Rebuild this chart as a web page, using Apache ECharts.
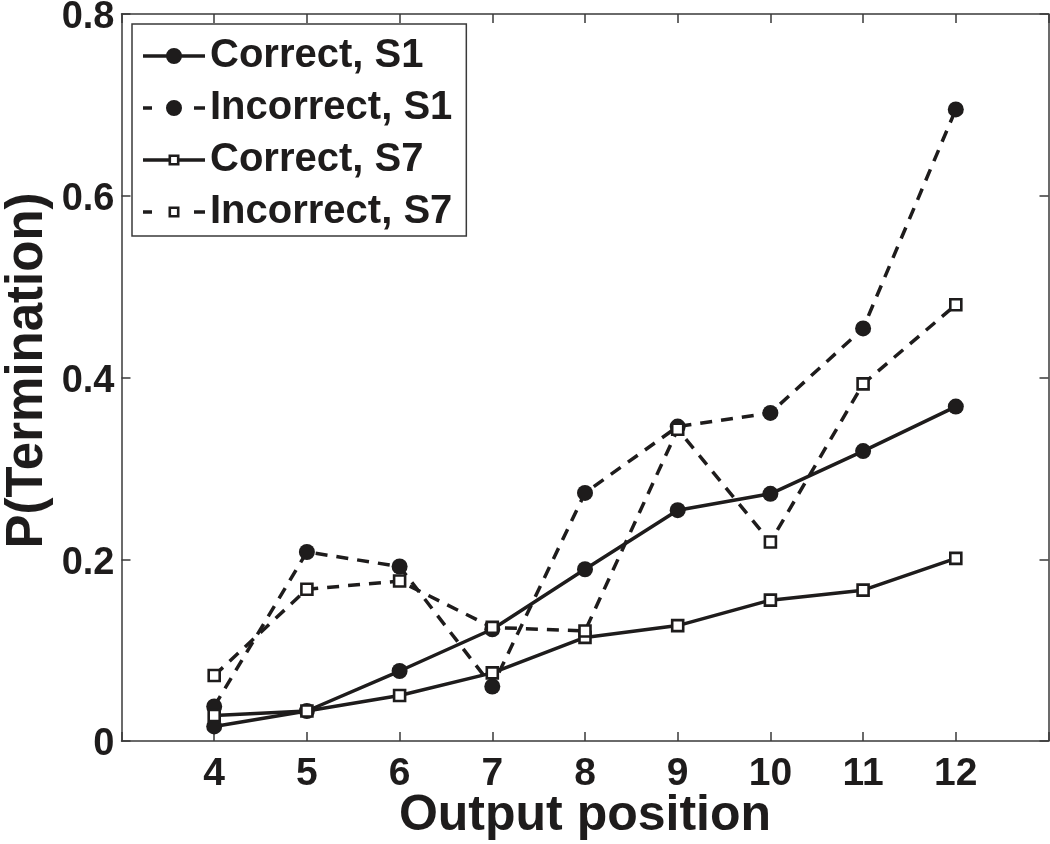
<!DOCTYPE html>
<html>
<head>
<meta charset="utf-8">
<script src="https://cdn.jsdelivr.net/npm/echarts@6/dist/echarts.min.js"></script>
<style>
html,body{margin:0;padding:0;background:#fff;}
#chart{width:1050px;height:844px;}
</style>
</head>
<body>
<div id="chart"></div>
<script>
var positions = [4, 5, 6, 7, 8, 9, 10, 11, 12];
var xTickLabels = ['4', '5', '6', '7', '8', '9', '10', '11', '12'];
var yTickLabels = ['0', '0.2', '0.4', '0.6', '0.8'];
var correctS1   = [0.016, 0.033, 0.077, 0.123, 0.189, 0.254, 0.272, 0.319, 0.368];
var incorrectS1 = [0.038, 0.208, 0.192, 0.060, 0.273, 0.346, 0.361, 0.454, 0.695];
var correctS7   = [0.028, 0.033, 0.050, 0.075, 0.114, 0.127, 0.155, 0.166, 0.201];
var incorrectS7 = [0.072, 0.167, 0.176, 0.125, 0.121, 0.343, 0.219, 0.393, 0.480];
var seriesNames = ['Correct, S1', 'Incorrect, S1', 'Correct, S7', 'Incorrect, S7'];

var FONT = "'Liberation Sans', Arial, Helvetica, sans-serif";
var INK = '#1e1c1c';
var AXIS = '#3a3a3a';

function pairs(vals) {
  return positions.map(function (p, i) { return [p, vals[i]]; });
}
function mkSeries(name, vals, dashed, filled) {
  return {
    name: name,
    type: 'line',
    data: pairs(vals),
    xAxisIndex: 0,
    yAxisIndex: 0,
    symbol: filled ? 'circle' : 'rect',
    symbolSize: filled ? 16 : 11,
    lineStyle: { color: INK, width: 3.5, type: dashed ? [12, 9] : 'solid' },
    itemStyle: filled ? { color: INK } : { color: '#fff', borderColor: INK, borderWidth: 2.6 },
    emphasis: { disabled: true },
    z: 3
  };
}

/* legend glyphs: line sample + marker, drawn as a filled path in a 62x16 box */
function rcw(x0, x1, y0, y1) { return 'M' + x0 + ',' + y0 + ' H' + x1 + ' V' + y1 + ' H' + x0 + ' Z '; }
function rccw(x0, x1, y0, y1) { return 'M' + x0 + ',' + y0 + ' V' + y1 + ' H' + x1 + ' V' + y0 + ' Z '; }
function circ(cx, cy, r) {
  return 'M' + (cx + r) + ',' + cy + ' A' + r + ',' + r + ' 0 1,1 ' + (cx - r) + ',' + cy +
         ' A' + r + ',' + r + ' 0 1,1 ' + (cx + r) + ',' + cy + ' Z ';
}
var LY0 = 6.25, LY1 = 9.75, BOX = 'M0,0 M62,16 ';
function legendIcon(dashed, filled) {
  var p = BOX;
  if (filled) {
    if (dashed) { p += rcw(0, 9, LY0, LY1) + rcw(51, 62, LY0, LY1); }
    else { p += rcw(0, 62, LY0, LY1); }
    p += circ(31, 8, 8);
  } else {
    if (dashed) { p += rcw(0, 9, LY0, LY1) + rcw(51, 62, LY0, LY1); }
    else { p += rcw(0, 25.6, LY0, LY1) + rcw(36.4, 62, LY0, LY1); }
    p += rcw(25.5, 36.5, 2.5, 13.5) + rccw(28.1, 33.9, 5.1, 10.9);
  }
  return 'path://' + p;
}
var legendStyles = [[false, true], [true, true], [false, false], [true, false]];

var chart = echarts.init(document.getElementById('chart'), null, { renderer: 'canvas' });
var axisCommon = {
  axisLine: { show: true, onZero: false, lineStyle: { color: AXIS, width: 1.5 } },
  axisTick: { show: true, inside: true, length: 9, lineStyle: { color: AXIS, width: 1.5 } },
  splitLine: { show: false }
};
chart.setOption({
  animation: false,
  backgroundColor: '#fff',
  grid: { left: 121.5, right: 1.5, top: 14, bottom: 103, containLabel: false, outerBoundsMode: 'none' },
  xAxis: [
    Object.assign({
      type: 'value', min: 3, max: 13, interval: 1, position: 'bottom',
      name: 'Output position', nameLocation: 'middle', nameGap: 50, nameMoveOverlap: false,
      nameTextStyle: { fontFamily: FONT, fontWeight: 'bold', fontSize: 50, color: INK },
      axisLabel: {
        margin: 14, fontFamily: FONT, fontWeight: 'bold', fontSize: 39, color: INK,
        formatter: function (v) { var i = positions.indexOf(v); return i >= 0 ? xTickLabels[i] : ''; }
      }
    }, axisCommon),
    Object.assign({
      type: 'value', min: 3, max: 13, interval: 1, position: 'top',
      axisLabel: { show: false }
    }, axisCommon)
  ],
  yAxis: [
    Object.assign({
      type: 'value', min: 0, max: 0.8, interval: 0.2, position: 'left',
      name: 'P(Termination)', nameLocation: 'middle', nameGap: 68, nameMoveOverlap: false,
      nameTextStyle: { fontFamily: FONT, fontWeight: 'bold', fontSize: 51, color: INK, padding: [0, 0, 0, 14] },
      axisLabel: {
        margin: 7, fontFamily: FONT, fontWeight: 'bold', fontSize: 38, color: INK,
        verticalAlign: 'top', lineHeight: 8,
        formatter: function (v) { return yTickLabels[Math.round(v / 0.2)]; }
      }
    }, axisCommon),
    Object.assign({
      type: 'value', min: 0, max: 0.8, interval: 0.2, position: 'right',
      axisLabel: { show: false }
    }, axisCommon)
  ],
  legend: {
    show: true,
    data: seriesNames.map(function (n, i) {
      return {
        name: n,
        icon: legendIcon(legendStyles[i][0], legendStyles[i][1]),
        itemStyle: { color: INK, borderWidth: 0, opacity: 1 }
      };
    }),
    orient: 'vertical',
    left: 132, top: 24,
    padding: [12, 14, 4, 11],
    itemGap: 12,
    itemWidth: 62,
    itemHeight: 16,
    symbolKeepAspect: true,
    backgroundColor: '#fff',
    borderColor: AXIS,
    borderWidth: 1.5,
    borderRadius: 0,
    selectedMode: false,
    textStyle: { fontFamily: FONT, fontWeight: 'bold', fontSize: 40, lineHeight: 40, color: INK, padding: [0, 0, 0, 0] }
  },
  series: [
    mkSeries(seriesNames[0], correctS1, false, true),
    mkSeries(seriesNames[1], incorrectS1, true, true),
    mkSeries(seriesNames[2], correctS7, false, false),
    mkSeries(seriesNames[3], incorrectS7, true, false)
  ]
});
</script>
</body>
</html>
